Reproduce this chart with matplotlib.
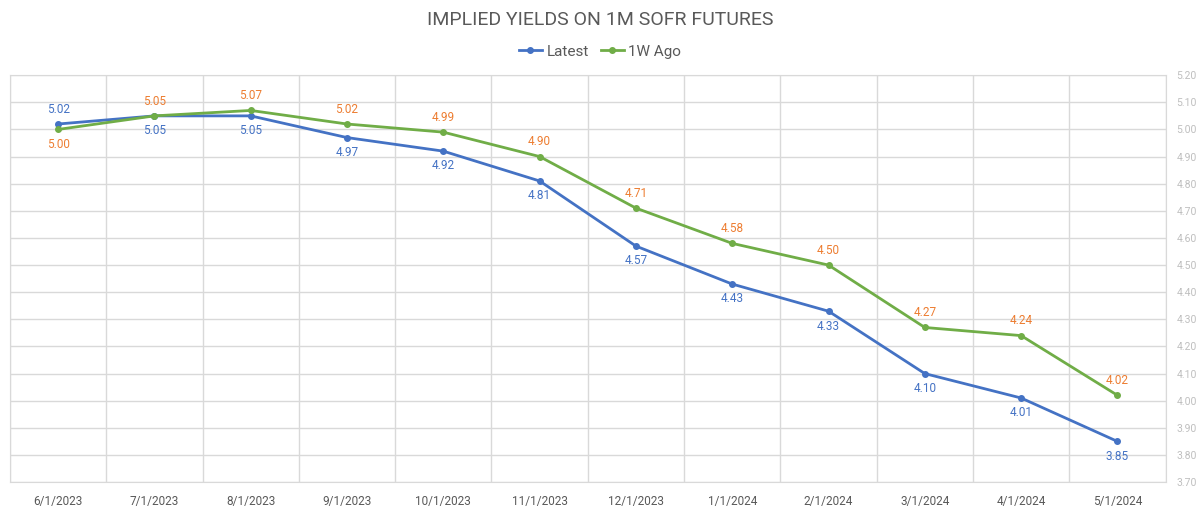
import numpy as np
import matplotlib.pyplot as plt

dates = ["6/1/2023", "7/1/2023", "8/1/2023", "9/1/2023", "10/1/2023", "11/1/2023",
         "12/1/2023", "1/1/2024", "2/1/2024", "3/1/2024", "4/1/2024", "5/1/2024"]
latest = [5.02, 5.05, 5.05, 4.97, 4.92, 4.81, 4.57, 4.43, 4.33, 4.10, 4.01, 3.85]
week_ago = [5.00, 5.05, 5.07, 5.02, 4.99, 4.90, 4.71, 4.58, 4.50, 4.27, 4.24, 4.02]

blue = "#4472C4"
green = "#70AD47"
orange = "#ED7D31"
grid_c = "#D9D9D9"

plt.rcParams["font.family"] = ["Roboto", "DejaVu Sans"]

fig = plt.figure(figsize=(12, 5.08), dpi=100)
ax = fig.add_axes([0.0083, 0.051, 0.963, 0.801])

x = np.arange(len(dates))
ax.plot(x, latest, color=blue, lw=2, marker="o", ms=4, label="Latest", zorder=3)
ax.plot(x, week_ago, color=green, lw=2, marker="o", ms=4, label="1W Ago", zorder=3)

for i in x:
    lat_above = latest[i] > week_ago[i]
    ax.annotate(f"{latest[i]:.2f}", (i, latest[i]), xytext=(0, 6 if lat_above else -6),
                textcoords="offset points", ha="center",
                va="bottom" if lat_above else "top", color=blue, fontsize=8.5)
    ax.annotate(f"{week_ago[i]:.2f}", (i, week_ago[i]), xytext=(0, -6 if lat_above else 6),
                textcoords="offset points", ha="center",
                va="top" if lat_above else "bottom", color=orange, fontsize=8.5)

ticks = np.arange(3.70, 5.21, 0.10)
ax.set_xlim(-0.5, len(dates) - 0.5)
ax.set_ylim(3.70, 5.20)
ax.set_yticks(ticks)
ax.set_yticklabels([f"{v:.2f}" for v in ticks])
ax.yaxis.tick_right()
ax.set_xticks(x)
ax.set_xticklabels(dates)
ax.set_xticks(np.arange(-0.5, len(dates)), minor=True)
ax.tick_params(axis="x", which="both", length=0, colors="#595959", labelsize=8.5, pad=9)
ax.tick_params(axis="y", length=0, colors="#BFBFBF", labelsize=7.5, pad=8)
ax.grid(True, axis="y", color=grid_c, lw=1)
ax.grid(True, axis="x", which="minor", color=grid_c, lw=1)
for s in ax.spines.values():
    s.set_color(grid_c)

fig.text(0.5, 0.96, "IMPLIED YIELDS ON 1M SOFR FUTURES", ha="center", va="center",
         fontsize=14, color="#595959")
fig.legend(loc="center", bbox_to_anchor=(0.5, 0.898), ncol=2, frameon=False,
           fontsize=11, labelcolor="#595959", handlelength=1.5, columnspacing=0.8,
           handletextpad=0.3)

fig.savefig("out.png", dpi=100)
